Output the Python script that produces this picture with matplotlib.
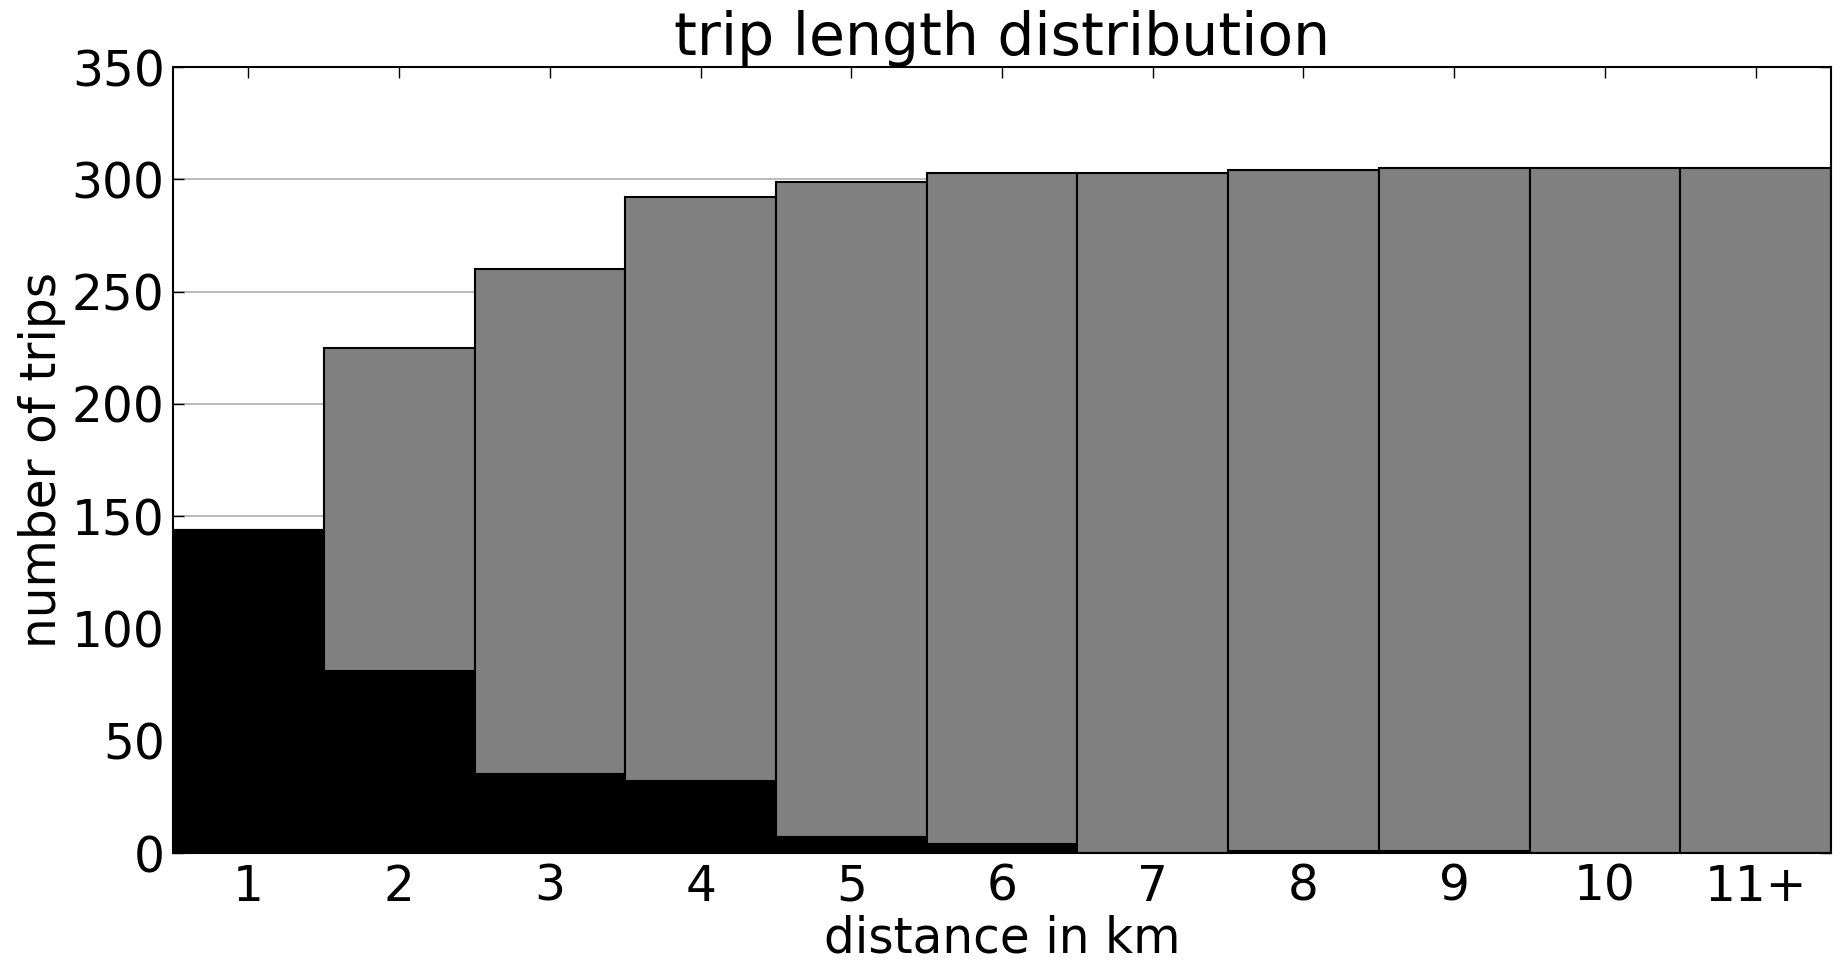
import numpy as np
import matplotlib
matplotlib.use('Agg')
import matplotlib.pyplot as plt

# trips per distance bin and the cumulative count of the shorter bins
labels = ['1', '2', '3', '4', '5', '6', '7', '8', '9', '10', '11+']
trips = [144, 81, 35, 32, 7, 4, 0, 1, 1, 0, 0]
shorter = [0, 144, 225, 260, 292, 299, 303, 303, 304, 305, 305]

plt.rcParams['font.size'] = 35
plt.rcParams['xtick.direction'] = 'in'
plt.rcParams['ytick.direction'] = 'in'
plt.rcParams['xtick.top'] = True
plt.rcParams['ytick.right'] = True

fig = plt.figure(figsize=(18.45, 9.63), dpi=100)
ax = fig.add_axes([0.0938, 0.1142, 0.8986, 0.8162])

x = np.arange(1, len(labels) + 1)
ax.bar(x, trips, width=1.0, color='black', edgecolor='black', linewidth=1.5, zorder=2)
ax.bar(x, shorter, width=1.0, bottom=trips, color='#808080', edgecolor='black',
       linewidth=1.5, zorder=2)

ax.set_xlim(0.5, 11.5)
ax.set_ylim(0, 350)
ax.set_xticks(x)
ax.set_xticklabels(labels)
ax.set_yticks(np.arange(0, 351, 50))
ax.tick_params(length=8, width=1)
ax.tick_params(axis='y', pad=6)
ax.tick_params(axis='x', pad=7)
ax.yaxis.grid(True, color='#b0b0b0', linewidth=1.2, zorder=0)
ax.set_axisbelow(True)
for s in ax.spines.values():
    s.set_linewidth(1.5)

ax.set_title('trip length distribution', pad=-2)
ax.set_xlabel('distance in km', labelpad=3)
ax.set_ylabel('number of trips', labelpad=4)

fig.savefig('out.png', dpi=100)
